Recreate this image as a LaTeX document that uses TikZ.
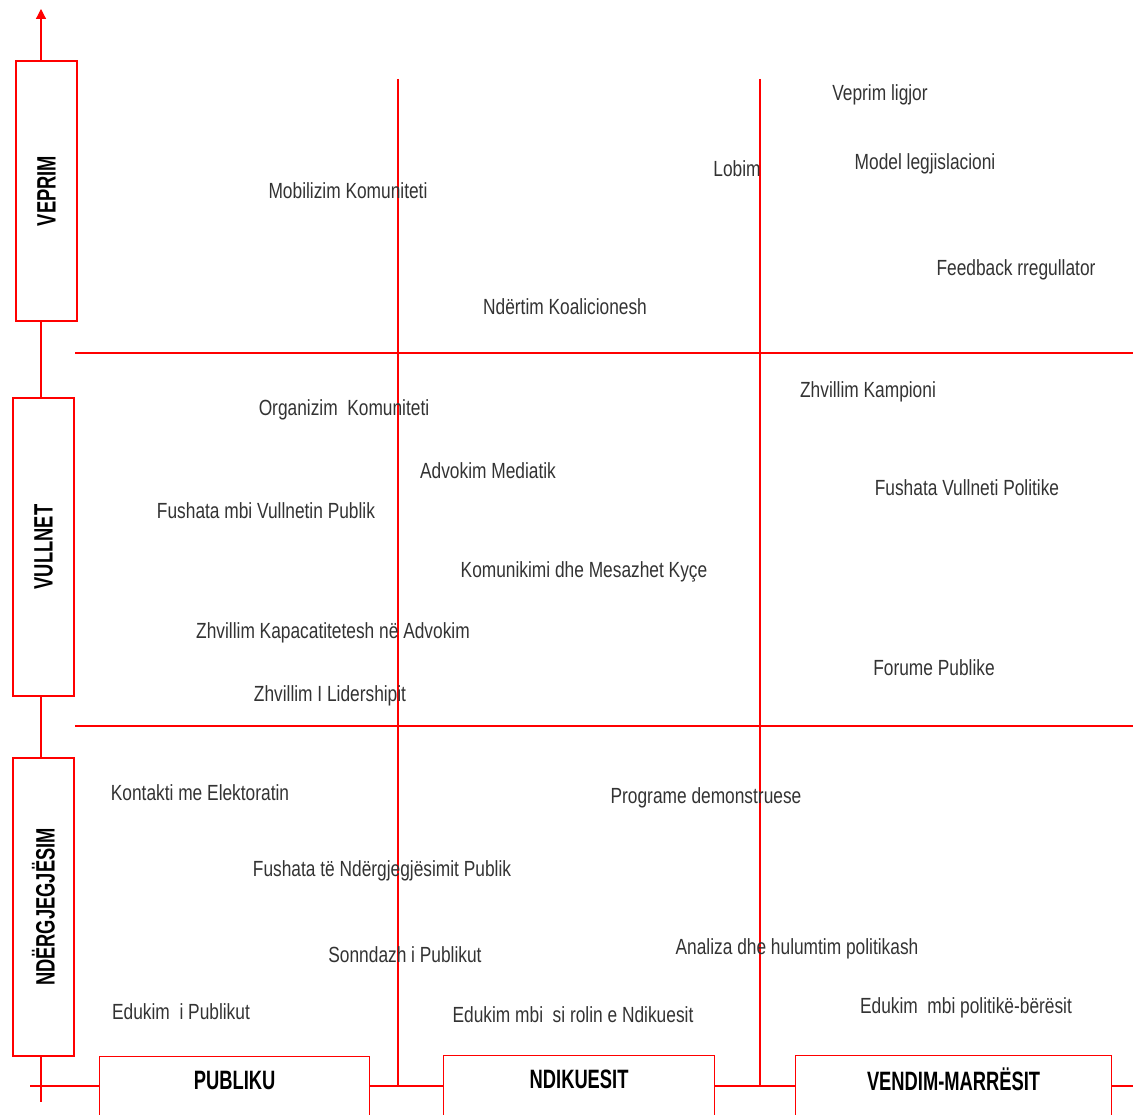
\documentclass[tikz,border=0pt]{standalone}
\usepackage{fontspec}
\setmainfont{Liberation Sans}[FakeStretch=0.79]
\newfontfamily\headfont{Liberation Sans}[FakeStretch=0.69]
\usetikzlibrary{arrows.meta,positioning}

\tikzset{
  gridline/.style={red, line width=0.8pt},
  rowbox/.style={draw=red, line width=0.8pt, fill=white,
    minimum width=1.525cm, inner sep=0pt},
  colbox/.style={draw=red, line width=0.8pt, fill=white,
    anchor=north west, minimum height=2cm, inner sep=0pt},
  head/.style={font=\headfont\bfseries\fontsize{18.9}{20}\selectfont,
    text=black, inner sep=0pt},
  item/.style={font=\fontsize{15.6}{18}\selectfont,
    text=black!80, inner sep=0pt, yshift=-0.05cm}
}

\begin{document}
\begin{tikzpicture}[x=0.025cm, y=-0.025cm]
  \useasboundingbox (0,0) rectangle (1133,1115);
  \clip (0,0) rectangle (1133,1115);

  % grid of the matrix
  \draw[gridline] (398,79) -- (398,1086);
  \draw[gridline] (760,79) -- (760,1086);
  \draw[gridline] (75,353) -- (1133,353);
  \draw[gridline] (75,726) -- (1133,726);

  % axes
  \coordinate (axisTop) at (41,9);
  \coordinate (axisBot) at (41,1102);
  \coordinate (hLeft) at (30,1086);
  \coordinate (hRight) at (1133,1086);

  % row boxes
  \node[rowbox, minimum height=6.5cm] (veprim) at (46.5,191)
    {\rotatebox{90}{\headfont\bfseries\fontsize{18.9}{20}\selectfont VEPRIM}};
  \node[rowbox, minimum height=7.45cm] (vullnet) at (43.5,547)
    {\rotatebox{90}{\headfont\bfseries\fontsize{18.9}{20}\selectfont VULLNET}};
  \node[rowbox, minimum height=7.45cm] (ndergj) at (43.5,907)
    {\rotatebox{90}{\headfont\bfseries\fontsize{18.9}{20}\selectfont NDËRGJEGJËSIM}};

  \draw[gridline, -{Triangle[length=7pt, width=7pt]}]
    (veprim.north -| axisTop) -- (axisTop);
  \draw[gridline] (veprim.south -| axisTop) -- (vullnet.north -| axisTop);
  \draw[gridline] (vullnet.south -| axisTop) -- (ndergj.north -| axisTop);
  \draw[gridline] (ndergj.south -| axisTop) -- (axisBot);

  % column boxes
  \node[colbox, minimum width=6.75cm] (publiku) at (99,1056) {};
  \node[colbox, minimum width=6.775cm] (ndikuesit) at (443,1055) {};
  \node[colbox, minimum width=7.9cm] (vendim) at (795,1055) {};

  \node[head, yshift=-0.6cm] (publikuTxt) at (publiku.north) {PUBLIKU};
  \node[head, yshift=-0.6cm] (ndikuesitTxt) at (ndikuesit.north) {NDIKUESIT};
  \node[head, yshift=-0.6cm] (vendimTxt) at (vendim.north) {VENDIM-MARRËSIT};

  \draw[gridline] (hLeft) -- (hLeft -| publiku.west);
  \draw[gridline] (publiku.east |- hLeft) -- (ndikuesit.west |- hLeft);
  \draw[gridline] (ndikuesit.east |- hLeft) -- (vendim.west |- hLeft);
  \draw[gridline] (vendim.east |- hLeft) -- (hRight);

  % veprim
  \node[item] (ligjor) at (880,93) {Veprim ligjor};
  \node[item] (lobim) at (737,167) {Lobim};
  \node[item] (model) at (925,162) {Model legjislacioni};
  \node[item] (mobilizim) at (348,189) {Mobilizim Komuniteti};
  \node[item] (feedback) at (1016,268) {Feedback rregullator};
  \node[item] (koalicion) at (565,305) {Ndërtim Koalicionesh};

  % vullnet
  \node[item] (kampion) at (868,390) {Zhvillim Kampioni};
  \node[item] (organizim) at (344,408) {Organizim\ \ Komuniteti};
  \node[item] (mediatik) at (488,469) {Advokim Mediatik};
  \node[item] (vpolitik) at (967,486) {Fushata Vullneti Politike};
  \node[item] (vpublik) at (266,509) {Fushata mbi Vullnetin Publik};
  \node[item] (mesazhe) at (584,570) {Komunikimi dhe Mesazhet Kyçe};
  \node[item] (kapacitet) at (333,631) {Zhvillim Kapacatitetesh në Advokim};
  \node[item] (forume) at (934,666) {Forume Publike};
  \node[item] (lidership) at (330,694) {Zhvillim I Lidershipit};

  % ndergjegjesim
  \node[item] (kontakt) at (200,791) {Kontakti me Elektoratin};
  \node[item] (demo) at (706,796) {Programe demonstruese};
  \node[item] (ndfushata) at (382,869) {Fushata të Ndërgjegjësimit Publik};
  \node[item] (analiza) at (797,947) {Analiza dhe hulumtim politikash};
  \node[item] (sondazh) at (405,953) {Sonndazh i Publikut};
  \node[item] (edpolitik) at (966,1006) {Edukim\ \ mbi politikë-bërësit};
  \node[item] (edpublik) at (181,1010) {Edukim\ \ i Publikut};
  \node[item] (edndikues) at (573,1013) {Edukim mbi\ \ si rolin e Ndikuesit};
\end{tikzpicture}
\end{document}
